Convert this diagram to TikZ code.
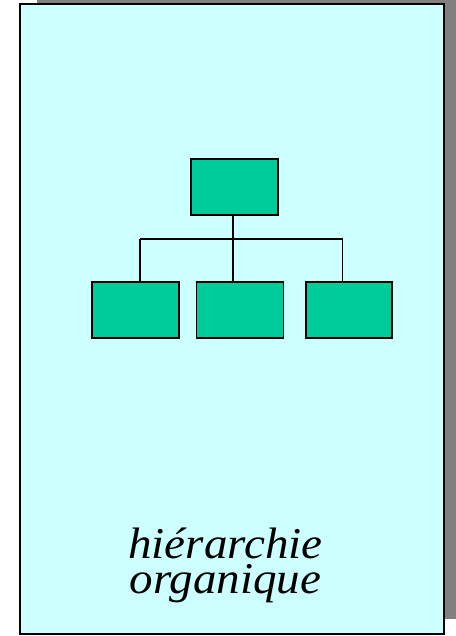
\documentclass[tikz,border=0pt]{standalone}
\usepackage{fontspec}
\setmainfont{Liberation Serif}
\definecolor{panelcyan}{HTML}{CCFFFF}
\definecolor{orggreen}{HTML}{00CC99}
\definecolor{shadowgray}{HTML}{808080}
\begin{document}
\begin{tikzpicture}[x=1pt,y=-1pt,
  orgbox/.style={draw=black, fill=orggreen, line width=1.9pt, minimum width=87pt, minimum height=56pt, inner sep=0pt, outer sep=0pt},
  link/.style={draw=black, line width=1.3pt}]
\useasboundingbox (0,0) rectangle (455,636);
% shadow
\fill[shadowgray] (37,-11) rectangle (461,619);
% panel
\draw[fill=panelcyan, line width=2.3pt] (20,4) rectangle (444,634);
% org chart
\node[orgbox] (top) at (234.5,187) {};
\node[orgbox] (b1) at (135.8,309.7) {};
\node[orgbox] (b2) at (240,309.7) {};
\node[orgbox, minimum width=86pt] (b3) at (349.3,309.7) {};
\coordinate (jl) at (140,239);
\coordinate (jm) at (233,239);
\coordinate (jr) at (342.7,239);
\draw[link] (jl) -- (jr);
\draw[link] (jm |- top.south) -- (jm);
\draw[link] (jl) -- (jl |- b1.north);
\draw[link] (jm) -- (jm |- b2.north);
\draw[link] (jr) -- (jr |- b3.north);
% caption
\node[anchor=base, align=center, inner sep=0pt, font=\fontsize{44}{35}\selectfont\itshape, xscale=1.07] (cap) at (225.5,593.5) {hiérarchie\\organique};
\end{tikzpicture}
\end{document}
